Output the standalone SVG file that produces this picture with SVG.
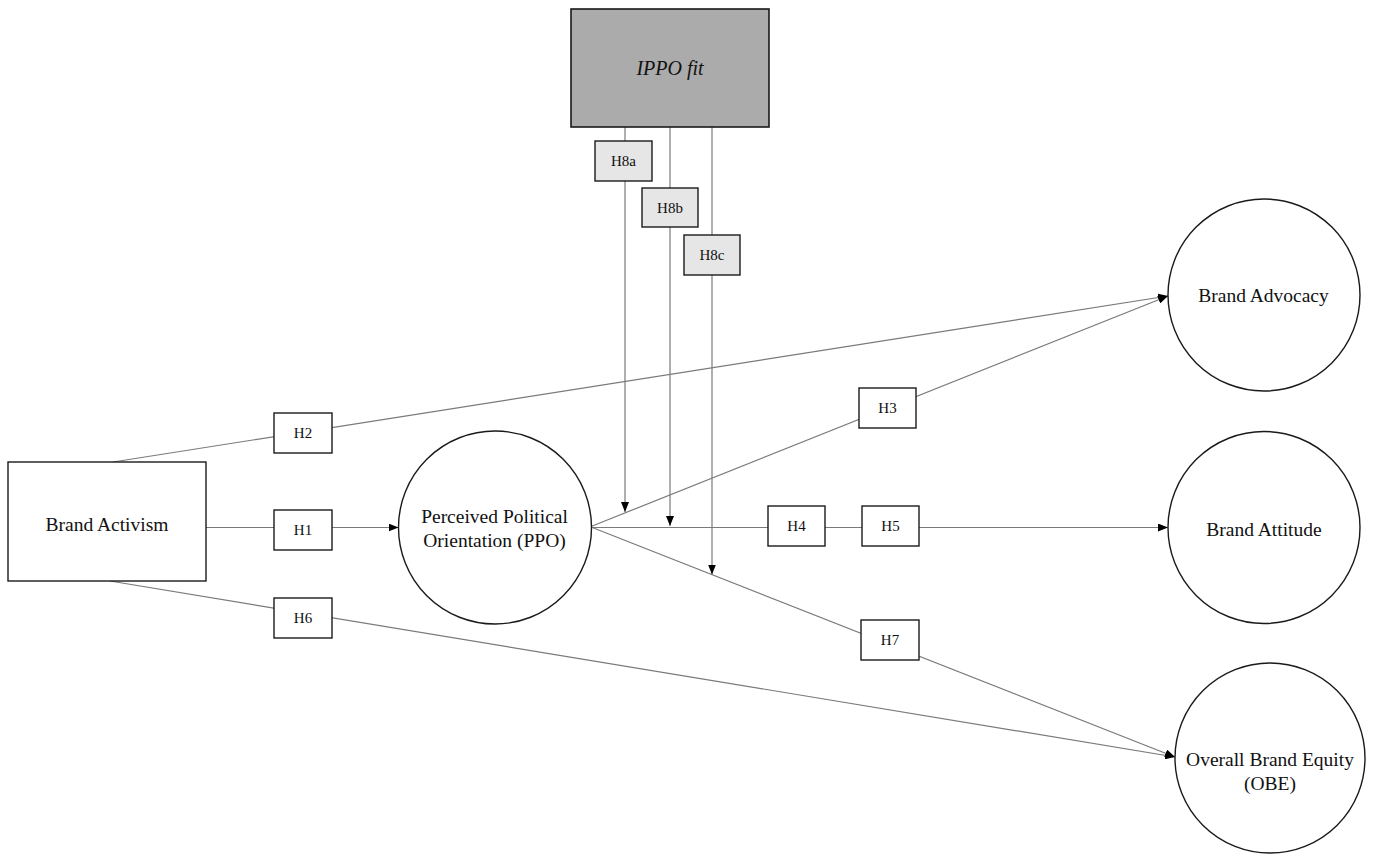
<svg xmlns="http://www.w3.org/2000/svg" width="1375" height="854" viewBox="0 0 1375 854">
<style>
.node{fill:#fff;stroke:#1a1a1a;stroke-width:1.4}
.mod{fill:#ababab;stroke:#1a1a1a;stroke-width:1.6}
.hbox{fill:#fff;stroke:#1a1a1a;stroke-width:1.4}
.hmod{fill:#e6e6e6;stroke:#1a1a1a;stroke-width:1.4}
.edge{fill:none;stroke:#7a7a7a;stroke-width:1.2}
.t{font-family:"Liberation Serif","Times New Roman",serif;font-size:19.5px;fill:#111;text-anchor:middle}
.h{font-family:"Liberation Serif","Times New Roman",serif;font-size:15px;fill:#111;text-anchor:middle}
</style>
<defs>
<marker id="arr" markerUnits="userSpaceOnUse" markerWidth="10" markerHeight="8" refX="10" refY="4" orient="auto">
<path d="M0,0 L10,4 L0,8 z" fill="#000"/>
</marker>
</defs>
<rect width="1375" height="854" fill="#fff"/>
<g id="connectors">
<line class="edge" x1="206" y1="527.5" x2="398.5" y2="527.5" marker-end="url(#arr)"/>
<line class="edge" x1="113" y1="462" x2="1168" y2="296" marker-end="url(#arr)"/>
<line class="edge" x1="110" y1="581" x2="1175" y2="757" marker-end="url(#arr)"/>
<line class="edge" x1="591" y1="526.5" x2="1168" y2="296" marker-end="url(#arr)"/>
<line class="edge" x1="591" y1="527.5" x2="1168" y2="527.5" marker-end="url(#arr)"/>
<line class="edge" x1="591" y1="527" x2="1175" y2="757" marker-end="url(#arr)"/>
<line class="edge" x1="625" y1="127" x2="625" y2="512" marker-end="url(#arr)"/>
<line class="edge" x1="670" y1="127" x2="670" y2="526" marker-end="url(#arr)"/>
<line class="edge" x1="712" y1="127" x2="712" y2="574.5" marker-end="url(#arr)"/>
</g>
<g id="labels">
<g id="H1"><rect class="hbox" x="274" y="510" width="58" height="40"/><text class="h" x="303" y="535">H1</text></g>
<g id="H2"><rect class="hbox" x="274" y="413" width="58" height="40"/><text class="h" x="303" y="438">H2</text></g>
<g id="H6"><rect class="hbox" x="274" y="598" width="58" height="40"/><text class="h" x="303" y="623">H6</text></g>
<g id="H3"><rect class="hbox" x="859" y="388" width="57" height="40"/><text class="h" x="887.5" y="413">H3</text></g>
<g id="H4"><rect class="hbox" x="768" y="506" width="57" height="40"/><text class="h" x="796.5" y="531">H4</text></g>
<g id="H5"><rect class="hbox" x="862" y="506" width="57" height="40"/><text class="h" x="890.5" y="531">H5</text></g>
<g id="H7"><rect class="hbox" x="861" y="620" width="58" height="40"/><text class="h" x="890" y="645">H7</text></g>
<g id="H8a"><rect class="hmod" x="595" y="141" width="57" height="40"/><text class="h" x="623.5" y="166">H8a</text></g>
<g id="H8b"><rect class="hmod" x="642" y="188" width="56" height="39"/><text class="h" x="670" y="212.5">H8b</text></g>
<g id="H8c"><rect class="hmod" x="684" y="235" width="56" height="40"/><text class="h" x="712" y="260">H8c</text></g>
</g>
<g id="ippo-fit"><rect class="mod" x="571" y="9" width="198" height="118"/><text class="t" x="670" y="75" style="font-style:italic;font-size:20px">IPPO fit</text></g>
<g id="brand-activism"><rect class="node" x="8" y="462" width="198" height="119"/><text class="t" x="107" y="531">Brand Activism</text></g>
<g id="ppo"><circle class="node" cx="495" cy="527.5" r="96.5"/><text class="t" x="494.5" y="523">Perceived Political</text><text class="t" x="494.5" y="546.5">Orientation (PPO)</text></g>
<g id="brand-advocacy"><circle class="node" cx="1264" cy="295" r="96"/><text class="t" x="1263.5" y="302">Brand Advocacy</text></g>
<g id="brand-attitude"><circle class="node" cx="1264" cy="527.5" r="96"/><text class="t" x="1264" y="536">Brand Attitude</text></g>
<g id="obe"><circle class="node" cx="1270" cy="758" r="95"/><text class="t" x="1270" y="765.5">Overall Brand Equity</text><text class="t" x="1270" y="789.5">(OBE)</text></g>
</svg>
